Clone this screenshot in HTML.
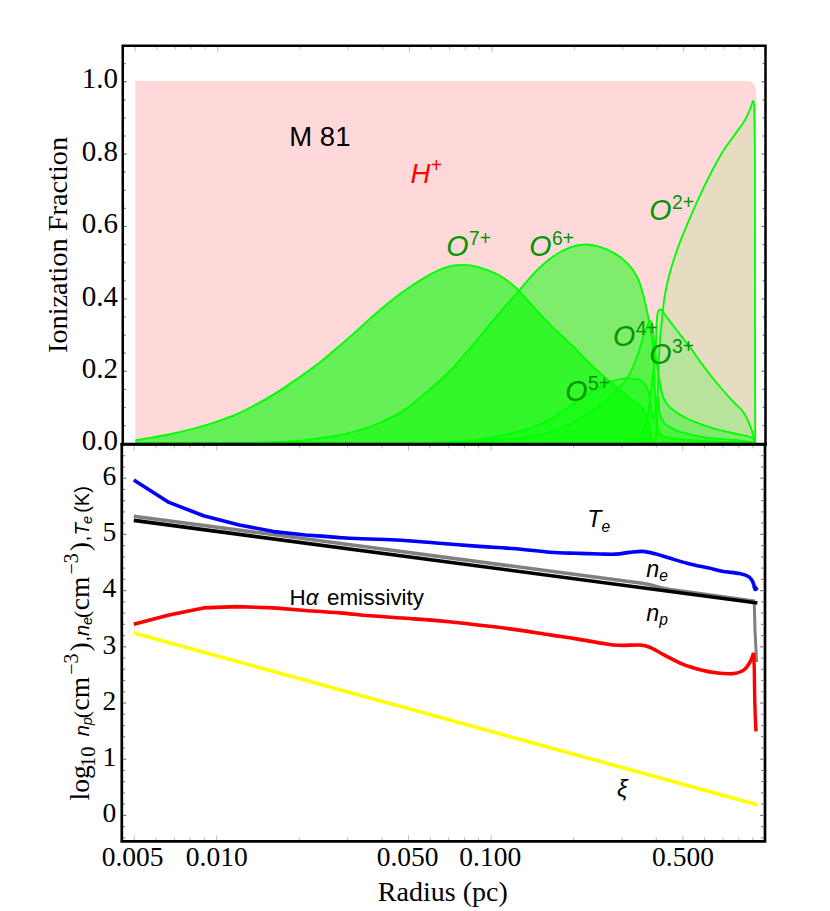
<!DOCTYPE html>
<html><head><meta charset="utf-8"><title>M 81 ionization</title>
<style>html,body{margin:0;padding:0;background:#fff}svg{display:block}.sf{font-family:"Liberation Serif",serif}.ss{font-family:"Liberation Sans",sans-serif}</style></head>
<body>
<svg width="830" height="911" viewBox="0 0 830 911">
<rect width="830" height="911" fill="#fff"/>
<path d="M135.3,443.7 L135.3,81 L747,81 C752.5,81.2 755.6,83.5 756.3,93 L756.6,443.7 Z" fill="rgb(255,0,0)" fill-opacity="0.15"/>
<path d="M135.30,443.60 C219.42,443.60 553.88,443.70 640.00,443.60 C726.12,443.50 649.42,443.60 652.00,443.00 C654.58,442.40 654.70,443.00 655.50,440.00 C656.30,437.00 656.47,431.67 656.80,425.00 C657.13,418.33 657.25,408.33 657.50,400.00 C657.75,391.67 658.10,381.52 658.30,375.00 C658.50,368.48 658.48,365.45 658.70,360.90 C658.92,356.35 659.30,352.10 659.60,347.70 C659.90,343.30 660.13,338.88 660.50,334.50 C660.87,330.12 661.37,325.78 661.80,321.40 C662.23,317.02 662.58,312.60 663.10,308.20 C663.62,303.80 663.95,300.25 664.90,295.00 C665.85,289.75 667.23,282.87 668.80,276.70 C670.37,270.53 672.22,264.33 674.30,258.00 C676.38,251.67 678.38,246.10 681.30,238.70 C684.22,231.30 688.32,221.62 691.80,213.60 C695.28,205.58 698.73,197.90 702.20,190.60 C705.67,183.30 709.12,176.40 712.60,169.80 C716.08,163.20 719.62,156.57 723.10,151.00 C726.58,145.43 730.03,141.27 733.50,136.40 C736.97,131.53 741.28,125.98 743.90,121.80 C746.52,117.62 747.85,114.35 749.20,111.30 C750.55,108.25 751.37,105.22 752.00,103.50 C752.63,101.78 752.67,100.92 753.00,101.00 C753.33,101.08 753.75,100.53 754.00,104.00 C754.25,107.47 754.35,111.88 754.50,121.80 C754.65,131.72 754.82,138.80 754.90,163.50 C754.98,188.20 754.97,230.58 755.00,270.00 C755.03,309.42 755.07,371.08 755.10,400.00 C755.13,428.92 755.18,436.25 755.20,443.50 L755.20,443.70 L135.30,443.70 Z" fill="rgb(0,255,0)" fill-opacity="0.10" stroke="none"/>
<path d="M135.30,443.60 C212.75,443.58 518.38,443.60 600.00,443.50 C681.62,443.40 619.33,443.32 625.00,443.00 C630.67,442.68 631.62,442.52 634.00,441.60 C636.38,440.68 637.62,439.52 639.30,437.50 C640.98,435.48 642.75,432.75 644.10,429.50 C645.45,426.25 646.52,422.08 647.40,418.00 C648.28,413.92 648.80,409.28 649.40,405.00 C650.00,400.72 650.52,396.45 651.00,392.30 C651.48,388.15 651.88,383.65 652.30,380.10 C652.72,376.55 653.08,374.18 653.50,371.00 C653.92,367.82 654.45,364.50 654.80,361.00 C655.15,357.50 655.38,353.68 655.60,350.00 C655.82,346.32 655.95,342.93 656.10,338.90 C656.25,334.87 656.28,329.90 656.50,325.80 C656.72,321.70 657.02,316.90 657.40,314.30 C657.78,311.70 658.30,310.98 658.80,310.20 C659.30,309.42 659.83,309.50 660.40,309.60 C660.97,309.70 661.50,310.02 662.20,310.80 C662.90,311.58 663.15,312.33 664.60,314.30 C666.05,316.27 668.12,318.95 670.90,322.60 C673.68,326.25 677.82,331.67 681.30,336.20 C684.78,340.73 688.32,345.10 691.80,349.80 C695.28,354.50 698.73,359.70 702.20,364.40 C705.67,369.10 709.12,373.65 712.60,378.00 C716.08,382.35 719.62,386.50 723.10,390.50 C726.58,394.50 730.37,398.70 733.50,402.00 C736.63,405.30 739.63,407.52 741.90,410.30 C744.17,413.08 745.53,415.57 747.10,418.70 C748.67,421.83 750.18,425.97 751.30,429.10 C752.42,432.23 753.18,435.27 753.80,437.50 C754.42,439.73 754.80,441.67 755.00,442.50 L755.00,443.70 L135.30,443.70 Z" fill="rgb(0,255,0)" fill-opacity="0.20" stroke="none"/>
<path d="M135.30,443.60 C186.08,443.55 382.55,443.65 440.00,443.30 C497.45,442.95 470.00,442.05 480.00,441.50 C490.00,440.95 492.67,440.67 500.00,440.00 C507.33,439.33 515.95,438.72 524.00,437.50 C532.05,436.28 540.23,435.12 548.30,432.70 C556.37,430.28 564.37,427.02 572.40,423.00 C580.43,418.98 589.27,413.82 596.50,408.60 C603.73,403.38 610.57,396.93 615.80,391.70 C621.03,386.47 624.28,383.23 627.90,377.20 C631.52,371.17 634.85,362.62 637.50,355.50 C640.15,348.38 642.17,339.45 643.80,334.50 C645.43,329.55 646.18,328.05 647.30,325.80 C648.42,323.55 649.62,320.97 650.50,321.00 C651.38,321.03 652.02,322.83 652.60,326.00 C653.18,329.17 653.52,335.17 654.00,340.00 C654.48,344.83 654.92,350.33 655.50,355.00 C656.08,359.67 656.85,363.83 657.50,368.00 C658.15,372.17 658.57,375.50 659.40,380.00 C660.23,384.50 661.40,391.25 662.50,395.00 C663.60,398.75 664.60,400.30 666.00,402.50 C667.40,404.70 668.35,406.03 670.90,408.20 C673.45,410.37 677.82,413.40 681.30,415.50 C684.78,417.60 686.58,418.70 691.80,420.80 C697.02,422.90 705.65,426.02 712.60,428.10 C719.55,430.18 727.58,431.92 733.50,433.30 C739.42,434.68 744.60,435.37 748.10,436.40 C751.60,437.43 753.43,438.98 754.50,439.50 L754.50,443.70 L135.30,443.70 Z" fill="rgb(0,255,0)" fill-opacity="0.30" stroke="none"/>
<path d="M135.30,443.60 C179.42,443.55 349.22,443.52 400.00,443.30 C450.78,443.08 427.57,442.78 440.00,442.30 C452.43,441.82 464.60,441.45 474.60,440.40 C484.60,439.35 491.75,437.73 500.00,436.00 C508.25,434.27 516.05,432.58 524.10,430.00 C532.15,427.42 540.25,424.75 548.30,420.50 C556.35,416.25 564.37,409.83 572.40,404.50 C580.43,399.17 590.07,392.33 596.50,388.50 C602.93,384.67 606.17,383.18 611.00,381.50 C615.83,379.82 621.33,378.77 625.50,378.40 C629.67,378.03 633.43,378.98 636.00,379.30 C638.57,379.62 639.42,379.48 640.90,380.30 C642.38,381.12 643.75,382.60 644.90,384.20 C646.05,385.80 647.02,387.60 647.80,389.90 C648.58,392.20 649.10,394.98 649.60,398.00 C650.10,401.02 650.40,405.17 650.80,408.00 C651.20,410.83 651.58,413.33 652.00,415.00 C652.42,416.67 652.83,418.17 653.30,418.00 C653.77,417.83 654.35,416.33 654.80,414.00 C655.25,411.67 655.58,406.83 656.00,404.00 C656.42,401.17 656.88,397.33 657.30,397.00 C657.72,396.67 658.12,399.40 658.50,402.00 C658.88,404.60 658.75,409.20 659.60,412.60 C660.45,416.00 661.53,419.78 663.60,422.40 C665.67,425.02 669.05,426.67 672.00,428.30 C674.95,429.93 676.27,430.75 681.30,432.20 C686.33,433.65 693.50,435.70 702.20,437.00 C710.90,438.30 724.78,439.12 733.50,440.00 C742.22,440.88 751.00,441.92 754.50,442.30 L754.50,443.70 L135.30,443.70 Z" fill="rgb(0,255,0)" fill-opacity="0.40" stroke="none"/>
<path d="M135.30,443.50 C154.42,443.42 222.55,443.45 250.00,443.00 C277.45,442.55 286.67,441.85 300.00,440.80 C313.33,439.75 320.98,438.18 330.00,436.70 C339.02,435.22 346.07,434.10 354.10,431.90 C362.13,429.70 370.17,426.92 378.20,423.50 C386.23,420.08 394.27,416.62 402.30,411.40 C410.33,406.18 418.37,399.02 426.40,392.20 C434.43,385.38 442.47,378.73 450.50,370.50 C458.53,362.27 466.57,352.23 474.60,342.80 C482.63,333.37 491.25,322.65 498.70,313.90 C506.15,305.15 513.05,297.45 519.30,290.30 C525.55,283.15 530.57,276.63 536.20,271.00 C541.83,265.37 547.47,260.43 553.10,256.50 C558.73,252.57 564.57,249.40 570.00,247.40 C575.43,245.40 580.47,244.50 585.70,244.50 C590.93,244.50 596.38,245.80 601.40,247.40 C606.42,249.00 611.38,251.37 615.80,254.10 C620.22,256.83 624.28,259.90 627.90,263.80 C631.52,267.70 634.93,272.30 637.50,277.50 C640.07,282.70 641.82,289.88 643.30,295.00 C644.78,300.12 645.43,303.80 646.40,308.20 C647.37,312.60 648.28,317.02 649.10,321.40 C649.92,325.78 650.65,330.12 651.30,334.50 C651.95,338.88 652.57,342.57 653.00,347.70 C653.43,352.83 653.63,359.08 653.90,365.30 C654.17,371.52 654.32,378.38 654.60,385.00 C654.88,391.62 655.20,398.72 655.60,405.00 C656.00,411.28 656.43,418.37 657.00,422.70 C657.57,427.03 658.27,428.95 659.00,431.00 C659.73,433.05 659.90,433.92 661.40,435.00 C662.90,436.08 665.82,436.87 668.00,437.50 C670.18,438.13 670.00,438.30 674.50,438.80 C679.00,439.30 686.58,439.97 695.00,440.50 C703.42,441.03 715.08,441.53 725.00,442.00 C734.92,442.47 749.58,443.08 754.50,443.30 L754.50,443.70 L135.30,443.70 Z" fill="rgb(0,255,0)" fill-opacity="0.50" stroke="none"/>
<path d="M135.30,440.40 C141.05,439.38 158.43,436.72 169.80,434.30 C181.17,431.88 192.07,429.38 203.50,425.90 C214.93,422.42 226.75,418.62 238.40,413.40 C250.05,408.18 263.35,400.55 273.40,394.60 C283.45,388.65 290.87,383.13 298.70,377.70 C306.53,372.27 315.18,365.97 320.40,362.00 C325.62,358.03 324.38,358.72 330.00,353.90 C335.62,349.08 346.07,340.18 354.10,333.10 C362.13,326.02 370.17,318.22 378.20,311.40 C386.23,304.58 394.27,298.02 402.30,292.20 C410.33,286.38 419.17,280.65 426.40,276.50 C433.63,272.35 439.68,269.23 445.70,267.30 C451.72,265.37 456.88,264.90 462.50,264.90 C468.12,264.90 473.37,265.62 479.40,267.30 C485.43,268.98 493.27,272.17 498.70,275.00 C504.13,277.83 507.77,280.73 512.00,284.30 C516.23,287.87 518.05,289.97 524.10,296.40 C530.15,302.83 540.25,314.67 548.30,322.90 C556.35,331.13 564.37,337.95 572.40,345.80 C580.43,353.65 588.45,362.55 596.50,370.00 C604.55,377.45 614.20,385.08 620.70,390.50 C627.20,395.92 632.12,399.83 635.50,402.50 C638.88,405.17 639.45,404.83 641.00,406.50 C642.55,408.17 643.72,410.33 644.80,412.50 C645.88,414.67 646.75,417.08 647.50,419.50 C648.25,421.92 648.80,424.42 649.30,427.00 C649.80,429.58 650.17,432.58 650.50,435.00 C650.83,437.42 650.97,440.10 651.30,441.50 C651.63,442.90 652.30,443.08 652.50,443.40 L652.50,443.70 L135.30,443.70 Z" fill="rgb(0,255,0)" fill-opacity="0.60" stroke="none"/>
<path d="M135.30,443.60 C219.42,443.60 553.88,443.70 640.00,443.60 C726.12,443.50 649.42,443.60 652.00,443.00 C654.58,442.40 654.70,443.00 655.50,440.00 C656.30,437.00 656.47,431.67 656.80,425.00 C657.13,418.33 657.25,408.33 657.50,400.00 C657.75,391.67 658.10,381.52 658.30,375.00 C658.50,368.48 658.48,365.45 658.70,360.90 C658.92,356.35 659.30,352.10 659.60,347.70 C659.90,343.30 660.13,338.88 660.50,334.50 C660.87,330.12 661.37,325.78 661.80,321.40 C662.23,317.02 662.58,312.60 663.10,308.20 C663.62,303.80 663.95,300.25 664.90,295.00 C665.85,289.75 667.23,282.87 668.80,276.70 C670.37,270.53 672.22,264.33 674.30,258.00 C676.38,251.67 678.38,246.10 681.30,238.70 C684.22,231.30 688.32,221.62 691.80,213.60 C695.28,205.58 698.73,197.90 702.20,190.60 C705.67,183.30 709.12,176.40 712.60,169.80 C716.08,163.20 719.62,156.57 723.10,151.00 C726.58,145.43 730.03,141.27 733.50,136.40 C736.97,131.53 741.28,125.98 743.90,121.80 C746.52,117.62 747.85,114.35 749.20,111.30 C750.55,108.25 751.37,105.22 752.00,103.50 C752.63,101.78 752.67,100.92 753.00,101.00 C753.33,101.08 753.75,100.53 754.00,104.00 C754.25,107.47 754.35,111.88 754.50,121.80 C754.65,131.72 754.82,138.80 754.90,163.50 C754.98,188.20 754.97,230.58 755.00,270.00 C755.03,309.42 755.07,371.08 755.10,400.00 C755.13,428.92 755.18,436.25 755.20,443.50" fill="none" stroke="rgb(0,255,0)" stroke-width="1.9" stroke-linejoin="round"/>
<path d="M135.30,443.60 C212.75,443.58 518.38,443.60 600.00,443.50 C681.62,443.40 619.33,443.32 625.00,443.00 C630.67,442.68 631.62,442.52 634.00,441.60 C636.38,440.68 637.62,439.52 639.30,437.50 C640.98,435.48 642.75,432.75 644.10,429.50 C645.45,426.25 646.52,422.08 647.40,418.00 C648.28,413.92 648.80,409.28 649.40,405.00 C650.00,400.72 650.52,396.45 651.00,392.30 C651.48,388.15 651.88,383.65 652.30,380.10 C652.72,376.55 653.08,374.18 653.50,371.00 C653.92,367.82 654.45,364.50 654.80,361.00 C655.15,357.50 655.38,353.68 655.60,350.00 C655.82,346.32 655.95,342.93 656.10,338.90 C656.25,334.87 656.28,329.90 656.50,325.80 C656.72,321.70 657.02,316.90 657.40,314.30 C657.78,311.70 658.30,310.98 658.80,310.20 C659.30,309.42 659.83,309.50 660.40,309.60 C660.97,309.70 661.50,310.02 662.20,310.80 C662.90,311.58 663.15,312.33 664.60,314.30 C666.05,316.27 668.12,318.95 670.90,322.60 C673.68,326.25 677.82,331.67 681.30,336.20 C684.78,340.73 688.32,345.10 691.80,349.80 C695.28,354.50 698.73,359.70 702.20,364.40 C705.67,369.10 709.12,373.65 712.60,378.00 C716.08,382.35 719.62,386.50 723.10,390.50 C726.58,394.50 730.37,398.70 733.50,402.00 C736.63,405.30 739.63,407.52 741.90,410.30 C744.17,413.08 745.53,415.57 747.10,418.70 C748.67,421.83 750.18,425.97 751.30,429.10 C752.42,432.23 753.18,435.27 753.80,437.50 C754.42,439.73 754.80,441.67 755.00,442.50" fill="none" stroke="rgb(0,255,0)" stroke-width="1.9" stroke-linejoin="round"/>
<path d="M135.30,443.60 C186.08,443.55 382.55,443.65 440.00,443.30 C497.45,442.95 470.00,442.05 480.00,441.50 C490.00,440.95 492.67,440.67 500.00,440.00 C507.33,439.33 515.95,438.72 524.00,437.50 C532.05,436.28 540.23,435.12 548.30,432.70 C556.37,430.28 564.37,427.02 572.40,423.00 C580.43,418.98 589.27,413.82 596.50,408.60 C603.73,403.38 610.57,396.93 615.80,391.70 C621.03,386.47 624.28,383.23 627.90,377.20 C631.52,371.17 634.85,362.62 637.50,355.50 C640.15,348.38 642.17,339.45 643.80,334.50 C645.43,329.55 646.18,328.05 647.30,325.80 C648.42,323.55 649.62,320.97 650.50,321.00 C651.38,321.03 652.02,322.83 652.60,326.00 C653.18,329.17 653.52,335.17 654.00,340.00 C654.48,344.83 654.92,350.33 655.50,355.00 C656.08,359.67 656.85,363.83 657.50,368.00 C658.15,372.17 658.57,375.50 659.40,380.00 C660.23,384.50 661.40,391.25 662.50,395.00 C663.60,398.75 664.60,400.30 666.00,402.50 C667.40,404.70 668.35,406.03 670.90,408.20 C673.45,410.37 677.82,413.40 681.30,415.50 C684.78,417.60 686.58,418.70 691.80,420.80 C697.02,422.90 705.65,426.02 712.60,428.10 C719.55,430.18 727.58,431.92 733.50,433.30 C739.42,434.68 744.60,435.37 748.10,436.40 C751.60,437.43 753.43,438.98 754.50,439.50" fill="none" stroke="rgb(0,255,0)" stroke-width="1.9" stroke-linejoin="round"/>
<path d="M135.30,443.60 C179.42,443.55 349.22,443.52 400.00,443.30 C450.78,443.08 427.57,442.78 440.00,442.30 C452.43,441.82 464.60,441.45 474.60,440.40 C484.60,439.35 491.75,437.73 500.00,436.00 C508.25,434.27 516.05,432.58 524.10,430.00 C532.15,427.42 540.25,424.75 548.30,420.50 C556.35,416.25 564.37,409.83 572.40,404.50 C580.43,399.17 590.07,392.33 596.50,388.50 C602.93,384.67 606.17,383.18 611.00,381.50 C615.83,379.82 621.33,378.77 625.50,378.40 C629.67,378.03 633.43,378.98 636.00,379.30 C638.57,379.62 639.42,379.48 640.90,380.30 C642.38,381.12 643.75,382.60 644.90,384.20 C646.05,385.80 647.02,387.60 647.80,389.90 C648.58,392.20 649.10,394.98 649.60,398.00 C650.10,401.02 650.40,405.17 650.80,408.00 C651.20,410.83 651.58,413.33 652.00,415.00 C652.42,416.67 652.83,418.17 653.30,418.00 C653.77,417.83 654.35,416.33 654.80,414.00 C655.25,411.67 655.58,406.83 656.00,404.00 C656.42,401.17 656.88,397.33 657.30,397.00 C657.72,396.67 658.12,399.40 658.50,402.00 C658.88,404.60 658.75,409.20 659.60,412.60 C660.45,416.00 661.53,419.78 663.60,422.40 C665.67,425.02 669.05,426.67 672.00,428.30 C674.95,429.93 676.27,430.75 681.30,432.20 C686.33,433.65 693.50,435.70 702.20,437.00 C710.90,438.30 724.78,439.12 733.50,440.00 C742.22,440.88 751.00,441.92 754.50,442.30" fill="none" stroke="rgb(0,255,0)" stroke-width="1.9" stroke-linejoin="round"/>
<path d="M135.30,443.50 C154.42,443.42 222.55,443.45 250.00,443.00 C277.45,442.55 286.67,441.85 300.00,440.80 C313.33,439.75 320.98,438.18 330.00,436.70 C339.02,435.22 346.07,434.10 354.10,431.90 C362.13,429.70 370.17,426.92 378.20,423.50 C386.23,420.08 394.27,416.62 402.30,411.40 C410.33,406.18 418.37,399.02 426.40,392.20 C434.43,385.38 442.47,378.73 450.50,370.50 C458.53,362.27 466.57,352.23 474.60,342.80 C482.63,333.37 491.25,322.65 498.70,313.90 C506.15,305.15 513.05,297.45 519.30,290.30 C525.55,283.15 530.57,276.63 536.20,271.00 C541.83,265.37 547.47,260.43 553.10,256.50 C558.73,252.57 564.57,249.40 570.00,247.40 C575.43,245.40 580.47,244.50 585.70,244.50 C590.93,244.50 596.38,245.80 601.40,247.40 C606.42,249.00 611.38,251.37 615.80,254.10 C620.22,256.83 624.28,259.90 627.90,263.80 C631.52,267.70 634.93,272.30 637.50,277.50 C640.07,282.70 641.82,289.88 643.30,295.00 C644.78,300.12 645.43,303.80 646.40,308.20 C647.37,312.60 648.28,317.02 649.10,321.40 C649.92,325.78 650.65,330.12 651.30,334.50 C651.95,338.88 652.57,342.57 653.00,347.70 C653.43,352.83 653.63,359.08 653.90,365.30 C654.17,371.52 654.32,378.38 654.60,385.00 C654.88,391.62 655.20,398.72 655.60,405.00 C656.00,411.28 656.43,418.37 657.00,422.70 C657.57,427.03 658.27,428.95 659.00,431.00 C659.73,433.05 659.90,433.92 661.40,435.00 C662.90,436.08 665.82,436.87 668.00,437.50 C670.18,438.13 670.00,438.30 674.50,438.80 C679.00,439.30 686.58,439.97 695.00,440.50 C703.42,441.03 715.08,441.53 725.00,442.00 C734.92,442.47 749.58,443.08 754.50,443.30" fill="none" stroke="rgb(0,255,0)" stroke-width="1.9" stroke-linejoin="round"/>
<path d="M135.30,440.40 C141.05,439.38 158.43,436.72 169.80,434.30 C181.17,431.88 192.07,429.38 203.50,425.90 C214.93,422.42 226.75,418.62 238.40,413.40 C250.05,408.18 263.35,400.55 273.40,394.60 C283.45,388.65 290.87,383.13 298.70,377.70 C306.53,372.27 315.18,365.97 320.40,362.00 C325.62,358.03 324.38,358.72 330.00,353.90 C335.62,349.08 346.07,340.18 354.10,333.10 C362.13,326.02 370.17,318.22 378.20,311.40 C386.23,304.58 394.27,298.02 402.30,292.20 C410.33,286.38 419.17,280.65 426.40,276.50 C433.63,272.35 439.68,269.23 445.70,267.30 C451.72,265.37 456.88,264.90 462.50,264.90 C468.12,264.90 473.37,265.62 479.40,267.30 C485.43,268.98 493.27,272.17 498.70,275.00 C504.13,277.83 507.77,280.73 512.00,284.30 C516.23,287.87 518.05,289.97 524.10,296.40 C530.15,302.83 540.25,314.67 548.30,322.90 C556.35,331.13 564.37,337.95 572.40,345.80 C580.43,353.65 588.45,362.55 596.50,370.00 C604.55,377.45 614.20,385.08 620.70,390.50 C627.20,395.92 632.12,399.83 635.50,402.50 C638.88,405.17 639.45,404.83 641.00,406.50 C642.55,408.17 643.72,410.33 644.80,412.50 C645.88,414.67 646.75,417.08 647.50,419.50 C648.25,421.92 648.80,424.42 649.30,427.00 C649.80,429.58 650.17,432.58 650.50,435.00 C650.83,437.42 650.97,440.10 651.30,441.50 C651.63,442.90 652.30,443.08 652.50,443.40" fill="none" stroke="rgb(0,255,0)" stroke-width="1.9" stroke-linejoin="round"/>
<path d="M133.80,516.20 L642.00,583.22 L650.00,584.78 L660.00,587.40 L672.00,589.89 L755.00,601.28" fill="none" stroke="rgb(128,128,128)" stroke-width="3.6"/>
<path d="M754.2,601 L755.0,630 L756.6,662" fill="none" stroke="rgb(128,128,128)" stroke-width="3.0"/>
<path d="M133.8,520.4 L757.4,603.0" fill="none" stroke="#000" stroke-width="3.6"/>
<path d="M133.80,479.90 L169.00,502.40 L203.50,515.70 L239.30,524.90 L273.70,531.60 L305.50,535.00 L321.40,536.10 L340.00,537.60 C342.75,537.75 347.12,538.10 356.50,538.50 C365.88,538.90 383.05,539.25 396.30,540.00 C409.55,540.75 422.75,541.98 436.00,543.00 C449.25,544.02 462.55,545.13 475.80,546.10 C489.05,547.07 503.13,547.78 515.50,548.80 C527.87,549.82 539.83,551.45 550.00,552.20 C560.17,552.95 568.17,553.00 576.50,553.30 C584.83,553.60 593.37,553.87 600.00,554.00 C606.63,554.13 611.38,554.37 616.30,554.10 C621.22,553.83 625.08,552.85 629.50,552.40 C633.92,551.95 638.38,551.12 642.80,551.40 C647.22,551.68 651.58,552.98 656.00,554.10 C660.42,555.22 664.00,556.55 669.30,558.10 C674.60,559.65 681.18,561.73 687.80,563.40 C694.42,565.07 703.30,566.80 709.00,568.10 C714.70,569.40 716.90,570.28 722.00,571.20 C727.10,572.12 735.20,572.72 739.60,573.60 C744.00,574.48 746.28,575.28 748.40,576.50 C750.52,577.72 751.32,579.22 752.30,580.90 C753.28,582.58 753.75,584.95 754.30,586.60 C754.85,588.25 755.38,590.10 755.60,590.80" fill="none" stroke="rgb(0,0,255)" stroke-width="3.6" stroke-linejoin="round"/>
<path d="M753.8,586 L757.2,590.2" stroke="rgb(0,0,255)" stroke-width="4" fill="none"/>
<path d="M133.8,633.1 L758,804.9" fill="none" stroke="rgb(255,255,0)" stroke-width="3.6"/>
<path d="M133.80,624.30 L169.00,615.00 L203.50,607.90 L236.60,606.60 L273.70,607.90 L305.50,610.50 C311.25,610.90 329.28,612.02 340.00,612.90 C350.72,613.78 358.22,614.87 369.80,615.80 C381.38,616.73 396.25,617.52 409.50,618.50 C422.75,619.48 436.05,620.42 449.30,621.70 C462.55,622.98 477.97,624.88 489.00,626.20 C500.03,627.52 505.33,628.15 515.50,629.60 C525.67,631.05 539.83,633.35 550.00,634.90 C560.17,636.45 567.67,637.48 576.50,638.90 C585.33,640.32 595.93,642.33 603.00,643.40 C610.07,644.47 612.72,645.03 618.90,645.30 C625.08,645.57 634.80,644.62 640.10,645.00 C645.40,645.38 646.72,645.97 650.70,647.60 C654.68,649.23 658.70,652.05 664.00,654.80 C669.30,657.55 676.32,661.58 682.50,664.10 C688.68,666.62 695.25,668.42 701.10,669.90 C706.95,671.38 712.28,672.38 717.60,673.00 C722.92,673.62 728.60,674.12 733.00,673.60 C737.40,673.08 741.08,671.98 744.00,669.90 C746.92,667.82 748.90,663.95 750.50,661.10 C752.10,658.25 753.08,654.18 753.60,652.80" fill="none" stroke="rgb(255,0,0)" stroke-width="3.6" stroke-linejoin="round"/>
<path d="M753.60,652.80 C753.72,655.67 754.13,663.48 754.30,670.00 C754.47,676.52 754.45,684.40 754.60,691.90 C754.75,699.40 754.97,708.42 755.20,715.00 C755.43,721.58 755.87,728.67 756.00,731.40" fill="none" stroke="rgb(255,0,0)" stroke-width="3.4" stroke-linejoin="miter"/>
<path d="M135.13,47.00 L135.13,51.60" stroke="#8c8c8c" stroke-width="0.6"/>
<path d="M134.23,445.80 L134.23,450.40" stroke="#8c8c8c" stroke-width="0.6"/>
<path d="M134.23,840.00 L134.23,835.40" stroke="#8c8c8c" stroke-width="0.6"/>
<path d="M217.70,47.00 L217.70,51.60" stroke="#8c8c8c" stroke-width="0.6"/>
<path d="M216.80,445.80 L216.80,450.40" stroke="#8c8c8c" stroke-width="0.6"/>
<path d="M216.80,840.00 L216.80,835.40" stroke="#8c8c8c" stroke-width="0.6"/>
<path d="M409.43,47.00 L409.43,51.60" stroke="#8c8c8c" stroke-width="0.6"/>
<path d="M408.53,445.80 L408.53,450.40" stroke="#8c8c8c" stroke-width="0.6"/>
<path d="M408.53,840.00 L408.53,835.40" stroke="#8c8c8c" stroke-width="0.6"/>
<path d="M492.00,47.00 L492.00,51.60" stroke="#8c8c8c" stroke-width="0.6"/>
<path d="M491.10,445.80 L491.10,450.40" stroke="#8c8c8c" stroke-width="0.6"/>
<path d="M491.10,840.00 L491.10,835.40" stroke="#8c8c8c" stroke-width="0.6"/>
<path d="M683.73,47.00 L683.73,51.60" stroke="#8c8c8c" stroke-width="0.6"/>
<path d="M682.83,445.80 L682.83,450.40" stroke="#8c8c8c" stroke-width="0.6"/>
<path d="M682.83,840.00 L682.83,835.40" stroke="#8c8c8c" stroke-width="0.6"/>
<path d="M156.85,47.00 L156.85,49.60" stroke="#8c8c8c" stroke-width="0.6"/>
<path d="M155.95,445.80 L155.95,448.40" stroke="#8c8c8c" stroke-width="0.6"/>
<path d="M155.95,840.00 L155.95,837.40" stroke="#8c8c8c" stroke-width="0.6"/>
<path d="M175.21,47.00 L175.21,49.60" stroke="#8c8c8c" stroke-width="0.6"/>
<path d="M174.31,445.80 L174.31,448.40" stroke="#8c8c8c" stroke-width="0.6"/>
<path d="M174.31,840.00 L174.31,837.40" stroke="#8c8c8c" stroke-width="0.6"/>
<path d="M191.12,47.00 L191.12,49.60" stroke="#8c8c8c" stroke-width="0.6"/>
<path d="M190.22,445.80 L190.22,448.40" stroke="#8c8c8c" stroke-width="0.6"/>
<path d="M190.22,840.00 L190.22,837.40" stroke="#8c8c8c" stroke-width="0.6"/>
<path d="M205.15,47.00 L205.15,49.60" stroke="#8c8c8c" stroke-width="0.6"/>
<path d="M204.25,445.80 L204.25,448.40" stroke="#8c8c8c" stroke-width="0.6"/>
<path d="M204.25,840.00 L204.25,837.40" stroke="#8c8c8c" stroke-width="0.6"/>
<path d="M300.27,47.00 L300.27,49.60" stroke="#8c8c8c" stroke-width="0.6"/>
<path d="M299.37,445.80 L299.37,448.40" stroke="#8c8c8c" stroke-width="0.6"/>
<path d="M299.37,840.00 L299.37,837.40" stroke="#8c8c8c" stroke-width="0.6"/>
<path d="M348.57,47.00 L348.57,49.60" stroke="#8c8c8c" stroke-width="0.6"/>
<path d="M347.67,445.80 L347.67,448.40" stroke="#8c8c8c" stroke-width="0.6"/>
<path d="M347.67,840.00 L347.67,837.40" stroke="#8c8c8c" stroke-width="0.6"/>
<path d="M382.85,47.00 L382.85,49.60" stroke="#8c8c8c" stroke-width="0.6"/>
<path d="M381.95,445.80 L381.95,448.40" stroke="#8c8c8c" stroke-width="0.6"/>
<path d="M381.95,840.00 L381.95,837.40" stroke="#8c8c8c" stroke-width="0.6"/>
<path d="M431.15,47.00 L431.15,49.60" stroke="#8c8c8c" stroke-width="0.6"/>
<path d="M430.25,445.80 L430.25,448.40" stroke="#8c8c8c" stroke-width="0.6"/>
<path d="M430.25,840.00 L430.25,837.40" stroke="#8c8c8c" stroke-width="0.6"/>
<path d="M449.51,47.00 L449.51,49.60" stroke="#8c8c8c" stroke-width="0.6"/>
<path d="M448.61,445.80 L448.61,448.40" stroke="#8c8c8c" stroke-width="0.6"/>
<path d="M448.61,840.00 L448.61,837.40" stroke="#8c8c8c" stroke-width="0.6"/>
<path d="M465.42,47.00 L465.42,49.60" stroke="#8c8c8c" stroke-width="0.6"/>
<path d="M464.52,445.80 L464.52,448.40" stroke="#8c8c8c" stroke-width="0.6"/>
<path d="M464.52,840.00 L464.52,837.40" stroke="#8c8c8c" stroke-width="0.6"/>
<path d="M479.45,47.00 L479.45,49.60" stroke="#8c8c8c" stroke-width="0.6"/>
<path d="M478.55,445.80 L478.55,448.40" stroke="#8c8c8c" stroke-width="0.6"/>
<path d="M478.55,840.00 L478.55,837.40" stroke="#8c8c8c" stroke-width="0.6"/>
<path d="M574.57,47.00 L574.57,49.60" stroke="#8c8c8c" stroke-width="0.6"/>
<path d="M573.67,445.80 L573.67,448.40" stroke="#8c8c8c" stroke-width="0.6"/>
<path d="M573.67,840.00 L573.67,837.40" stroke="#8c8c8c" stroke-width="0.6"/>
<path d="M622.87,47.00 L622.87,49.60" stroke="#8c8c8c" stroke-width="0.6"/>
<path d="M621.97,445.80 L621.97,448.40" stroke="#8c8c8c" stroke-width="0.6"/>
<path d="M621.97,840.00 L621.97,837.40" stroke="#8c8c8c" stroke-width="0.6"/>
<path d="M657.15,47.00 L657.15,49.60" stroke="#8c8c8c" stroke-width="0.6"/>
<path d="M656.25,445.80 L656.25,448.40" stroke="#8c8c8c" stroke-width="0.6"/>
<path d="M656.25,840.00 L656.25,837.40" stroke="#8c8c8c" stroke-width="0.6"/>
<path d="M705.45,47.00 L705.45,49.60" stroke="#8c8c8c" stroke-width="0.6"/>
<path d="M704.55,445.80 L704.55,448.40" stroke="#8c8c8c" stroke-width="0.6"/>
<path d="M704.55,840.00 L704.55,837.40" stroke="#8c8c8c" stroke-width="0.6"/>
<path d="M723.81,47.00 L723.81,49.60" stroke="#8c8c8c" stroke-width="0.6"/>
<path d="M722.91,445.80 L722.91,448.40" stroke="#8c8c8c" stroke-width="0.6"/>
<path d="M722.91,840.00 L722.91,837.40" stroke="#8c8c8c" stroke-width="0.6"/>
<path d="M739.72,47.00 L739.72,49.60" stroke="#8c8c8c" stroke-width="0.6"/>
<path d="M738.82,445.80 L738.82,448.40" stroke="#8c8c8c" stroke-width="0.6"/>
<path d="M738.82,840.00 L738.82,837.40" stroke="#8c8c8c" stroke-width="0.6"/>
<path d="M753.75,47.00 L753.75,49.60" stroke="#8c8c8c" stroke-width="0.6"/>
<path d="M752.85,445.80 L752.85,448.40" stroke="#8c8c8c" stroke-width="0.6"/>
<path d="M752.85,840.00 L752.85,837.40" stroke="#8c8c8c" stroke-width="0.6"/>
<path d="M124.00,443.70 L126.70,443.70" stroke="#707070" stroke-width="1.2"/>
<path d="M764.30,443.70 L761.60,443.70" stroke="#707070" stroke-width="1.2"/>
<path d="M124.00,425.60 L125.70,425.60" stroke="#707070" stroke-width="1.2"/>
<path d="M764.30,425.60 L762.60,425.60" stroke="#707070" stroke-width="1.2"/>
<path d="M124.00,407.50 L125.70,407.50" stroke="#707070" stroke-width="1.2"/>
<path d="M764.30,407.50 L762.60,407.50" stroke="#707070" stroke-width="1.2"/>
<path d="M124.00,389.40 L125.70,389.40" stroke="#707070" stroke-width="1.2"/>
<path d="M764.30,389.40 L762.60,389.40" stroke="#707070" stroke-width="1.2"/>
<path d="M124.00,371.30 L126.70,371.30" stroke="#707070" stroke-width="1.2"/>
<path d="M764.30,371.30 L761.60,371.30" stroke="#707070" stroke-width="1.2"/>
<path d="M124.00,353.20 L125.70,353.20" stroke="#707070" stroke-width="1.2"/>
<path d="M764.30,353.20 L762.60,353.20" stroke="#707070" stroke-width="1.2"/>
<path d="M124.00,335.10 L125.70,335.10" stroke="#707070" stroke-width="1.2"/>
<path d="M764.30,335.10 L762.60,335.10" stroke="#707070" stroke-width="1.2"/>
<path d="M124.00,317.00 L125.70,317.00" stroke="#707070" stroke-width="1.2"/>
<path d="M764.30,317.00 L762.60,317.00" stroke="#707070" stroke-width="1.2"/>
<path d="M124.00,298.90 L126.70,298.90" stroke="#707070" stroke-width="1.2"/>
<path d="M764.30,298.90 L761.60,298.90" stroke="#707070" stroke-width="1.2"/>
<path d="M124.00,280.80 L125.70,280.80" stroke="#707070" stroke-width="1.2"/>
<path d="M764.30,280.80 L762.60,280.80" stroke="#707070" stroke-width="1.2"/>
<path d="M124.00,262.70 L125.70,262.70" stroke="#707070" stroke-width="1.2"/>
<path d="M764.30,262.70 L762.60,262.70" stroke="#707070" stroke-width="1.2"/>
<path d="M124.00,244.60 L125.70,244.60" stroke="#707070" stroke-width="1.2"/>
<path d="M764.30,244.60 L762.60,244.60" stroke="#707070" stroke-width="1.2"/>
<path d="M124.00,226.50 L126.70,226.50" stroke="#707070" stroke-width="1.2"/>
<path d="M764.30,226.50 L761.60,226.50" stroke="#707070" stroke-width="1.2"/>
<path d="M124.00,208.40 L125.70,208.40" stroke="#707070" stroke-width="1.2"/>
<path d="M764.30,208.40 L762.60,208.40" stroke="#707070" stroke-width="1.2"/>
<path d="M124.00,190.30 L125.70,190.30" stroke="#707070" stroke-width="1.2"/>
<path d="M764.30,190.30 L762.60,190.30" stroke="#707070" stroke-width="1.2"/>
<path d="M124.00,172.20 L125.70,172.20" stroke="#707070" stroke-width="1.2"/>
<path d="M764.30,172.20 L762.60,172.20" stroke="#707070" stroke-width="1.2"/>
<path d="M124.00,154.10 L126.70,154.10" stroke="#707070" stroke-width="1.2"/>
<path d="M764.30,154.10 L761.60,154.10" stroke="#707070" stroke-width="1.2"/>
<path d="M124.00,136.00 L125.70,136.00" stroke="#707070" stroke-width="1.2"/>
<path d="M764.30,136.00 L762.60,136.00" stroke="#707070" stroke-width="1.2"/>
<path d="M124.00,117.90 L125.70,117.90" stroke="#707070" stroke-width="1.2"/>
<path d="M764.30,117.90 L762.60,117.90" stroke="#707070" stroke-width="1.2"/>
<path d="M124.00,99.80 L125.70,99.80" stroke="#707070" stroke-width="1.2"/>
<path d="M764.30,99.80 L762.60,99.80" stroke="#707070" stroke-width="1.2"/>
<path d="M124.00,81.70 L126.70,81.70" stroke="#707070" stroke-width="1.2"/>
<path d="M764.30,81.70 L761.60,81.70" stroke="#707070" stroke-width="1.2"/>
<path d="M124.00,63.60 L125.70,63.60" stroke="#707070" stroke-width="1.2"/>
<path d="M764.30,63.60 L762.60,63.60" stroke="#707070" stroke-width="1.2"/>
<path d="M123.40,837.88 L125.10,837.88" stroke="#707070" stroke-width="1.2"/>
<path d="M763.00,837.88 L761.30,837.88" stroke="#707070" stroke-width="1.2"/>
<path d="M123.40,826.64 L125.10,826.64" stroke="#707070" stroke-width="1.2"/>
<path d="M763.00,826.64 L761.30,826.64" stroke="#707070" stroke-width="1.2"/>
<path d="M123.40,815.40 L126.10,815.40" stroke="#707070" stroke-width="1.2"/>
<path d="M763.00,815.40 L760.30,815.40" stroke="#707070" stroke-width="1.2"/>
<path d="M123.40,804.16 L125.10,804.16" stroke="#707070" stroke-width="1.2"/>
<path d="M763.00,804.16 L761.30,804.16" stroke="#707070" stroke-width="1.2"/>
<path d="M123.40,792.92 L125.10,792.92" stroke="#707070" stroke-width="1.2"/>
<path d="M763.00,792.92 L761.30,792.92" stroke="#707070" stroke-width="1.2"/>
<path d="M123.40,781.68 L125.10,781.68" stroke="#707070" stroke-width="1.2"/>
<path d="M763.00,781.68 L761.30,781.68" stroke="#707070" stroke-width="1.2"/>
<path d="M123.40,770.44 L125.10,770.44" stroke="#707070" stroke-width="1.2"/>
<path d="M763.00,770.44 L761.30,770.44" stroke="#707070" stroke-width="1.2"/>
<path d="M123.40,759.20 L126.10,759.20" stroke="#707070" stroke-width="1.2"/>
<path d="M763.00,759.20 L760.30,759.20" stroke="#707070" stroke-width="1.2"/>
<path d="M123.40,747.96 L125.10,747.96" stroke="#707070" stroke-width="1.2"/>
<path d="M763.00,747.96 L761.30,747.96" stroke="#707070" stroke-width="1.2"/>
<path d="M123.40,736.72 L125.10,736.72" stroke="#707070" stroke-width="1.2"/>
<path d="M763.00,736.72 L761.30,736.72" stroke="#707070" stroke-width="1.2"/>
<path d="M123.40,725.48 L125.10,725.48" stroke="#707070" stroke-width="1.2"/>
<path d="M763.00,725.48 L761.30,725.48" stroke="#707070" stroke-width="1.2"/>
<path d="M123.40,714.24 L125.10,714.24" stroke="#707070" stroke-width="1.2"/>
<path d="M763.00,714.24 L761.30,714.24" stroke="#707070" stroke-width="1.2"/>
<path d="M123.40,703.00 L126.10,703.00" stroke="#707070" stroke-width="1.2"/>
<path d="M763.00,703.00 L760.30,703.00" stroke="#707070" stroke-width="1.2"/>
<path d="M123.40,691.76 L125.10,691.76" stroke="#707070" stroke-width="1.2"/>
<path d="M763.00,691.76 L761.30,691.76" stroke="#707070" stroke-width="1.2"/>
<path d="M123.40,680.52 L125.10,680.52" stroke="#707070" stroke-width="1.2"/>
<path d="M763.00,680.52 L761.30,680.52" stroke="#707070" stroke-width="1.2"/>
<path d="M123.40,669.28 L125.10,669.28" stroke="#707070" stroke-width="1.2"/>
<path d="M763.00,669.28 L761.30,669.28" stroke="#707070" stroke-width="1.2"/>
<path d="M123.40,658.04 L125.10,658.04" stroke="#707070" stroke-width="1.2"/>
<path d="M763.00,658.04 L761.30,658.04" stroke="#707070" stroke-width="1.2"/>
<path d="M123.40,646.80 L126.10,646.80" stroke="#707070" stroke-width="1.2"/>
<path d="M763.00,646.80 L760.30,646.80" stroke="#707070" stroke-width="1.2"/>
<path d="M123.40,635.56 L125.10,635.56" stroke="#707070" stroke-width="1.2"/>
<path d="M763.00,635.56 L761.30,635.56" stroke="#707070" stroke-width="1.2"/>
<path d="M123.40,624.32 L125.10,624.32" stroke="#707070" stroke-width="1.2"/>
<path d="M763.00,624.32 L761.30,624.32" stroke="#707070" stroke-width="1.2"/>
<path d="M123.40,613.08 L125.10,613.08" stroke="#707070" stroke-width="1.2"/>
<path d="M763.00,613.08 L761.30,613.08" stroke="#707070" stroke-width="1.2"/>
<path d="M123.40,601.84 L125.10,601.84" stroke="#707070" stroke-width="1.2"/>
<path d="M763.00,601.84 L761.30,601.84" stroke="#707070" stroke-width="1.2"/>
<path d="M123.40,590.60 L126.10,590.60" stroke="#707070" stroke-width="1.2"/>
<path d="M763.00,590.60 L760.30,590.60" stroke="#707070" stroke-width="1.2"/>
<path d="M123.40,579.36 L125.10,579.36" stroke="#707070" stroke-width="1.2"/>
<path d="M763.00,579.36 L761.30,579.36" stroke="#707070" stroke-width="1.2"/>
<path d="M123.40,568.12 L125.10,568.12" stroke="#707070" stroke-width="1.2"/>
<path d="M763.00,568.12 L761.30,568.12" stroke="#707070" stroke-width="1.2"/>
<path d="M123.40,556.88 L125.10,556.88" stroke="#707070" stroke-width="1.2"/>
<path d="M763.00,556.88 L761.30,556.88" stroke="#707070" stroke-width="1.2"/>
<path d="M123.40,545.64 L125.10,545.64" stroke="#707070" stroke-width="1.2"/>
<path d="M763.00,545.64 L761.30,545.64" stroke="#707070" stroke-width="1.2"/>
<path d="M123.40,534.40 L126.10,534.40" stroke="#707070" stroke-width="1.2"/>
<path d="M763.00,534.40 L760.30,534.40" stroke="#707070" stroke-width="1.2"/>
<path d="M123.40,523.16 L125.10,523.16" stroke="#707070" stroke-width="1.2"/>
<path d="M763.00,523.16 L761.30,523.16" stroke="#707070" stroke-width="1.2"/>
<path d="M123.40,511.92 L125.10,511.92" stroke="#707070" stroke-width="1.2"/>
<path d="M763.00,511.92 L761.30,511.92" stroke="#707070" stroke-width="1.2"/>
<path d="M123.40,500.68 L125.10,500.68" stroke="#707070" stroke-width="1.2"/>
<path d="M763.00,500.68 L761.30,500.68" stroke="#707070" stroke-width="1.2"/>
<path d="M123.40,489.44 L125.10,489.44" stroke="#707070" stroke-width="1.2"/>
<path d="M763.00,489.44 L761.30,489.44" stroke="#707070" stroke-width="1.2"/>
<path d="M123.40,478.20 L126.10,478.20" stroke="#707070" stroke-width="1.2"/>
<path d="M763.00,478.20 L760.30,478.20" stroke="#707070" stroke-width="1.2"/>
<path d="M123.40,466.96 L125.10,466.96" stroke="#707070" stroke-width="1.2"/>
<path d="M763.00,466.96 L761.30,466.96" stroke="#707070" stroke-width="1.2"/>
<path d="M123.40,455.72 L125.10,455.72" stroke="#707070" stroke-width="1.2"/>
<path d="M763.00,455.72 L761.30,455.72" stroke="#707070" stroke-width="1.2"/>
<rect x="122.75" y="45.75" width="642.75" height="398.5" fill="none" stroke="#000" stroke-width="2.5"/>
<path d="M121.8,443 L121.8,841.35 L765.0,841.35 L765.0,443" fill="none" stroke="#000" stroke-width="2.7"/>
<path d="M120.5,444.2 L766.7,444.2" fill="none" stroke="#000" stroke-width="3.0"/>
<text x="117.9" y="450.4" class="sf" font-size="29" text-anchor="end">0.0</text>
<text x="117.9" y="378.0" class="sf" font-size="29" text-anchor="end">0.2</text>
<text x="117.9" y="305.6" class="sf" font-size="29" text-anchor="end">0.4</text>
<text x="117.9" y="233.2" class="sf" font-size="29" text-anchor="end">0.6</text>
<text x="117.9" y="160.8" class="sf" font-size="29" text-anchor="end">0.8</text>
<text x="117.9" y="88.4" class="sf" font-size="29" text-anchor="end">1.0</text>
<text x="116.2" y="822.2" class="sf" font-size="27.5" text-anchor="end">0</text>
<text x="116.2" y="766.0" class="sf" font-size="27.5" text-anchor="end">1</text>
<text x="116.2" y="709.8" class="sf" font-size="27.5" text-anchor="end">2</text>
<text x="116.2" y="653.6" class="sf" font-size="27.5" text-anchor="end">3</text>
<text x="116.2" y="597.4" class="sf" font-size="27.5" text-anchor="end">4</text>
<text x="116.2" y="541.2" class="sf" font-size="27.5" text-anchor="end">5</text>
<text x="116.2" y="485.0" class="sf" font-size="27.5" text-anchor="end">6</text>
<text x="132.6" y="866.3" class="sf" font-size="27.5" text-anchor="middle">0.005</text>
<text x="216.8" y="866.3" class="sf" font-size="27.5" text-anchor="middle">0.010</text>
<text x="407.6" y="866.3" class="sf" font-size="27.5" text-anchor="middle">0.050</text>
<text x="490.2" y="866.3" class="sf" font-size="27.5" text-anchor="middle">0.100</text>
<text x="683.0" y="866.3" class="sf" font-size="27.5" text-anchor="middle">0.500</text>
<text x="442.8" y="901" class="sf" font-size="28" text-anchor="middle">Radius (pc)</text>
<text transform="translate(66.8,245) rotate(-90)" class="sf" font-size="28.3" text-anchor="middle">Ionization Fraction</text>
<text transform="translate(88.9,800.5) rotate(-90)" class="sf" font-size="27.5">log</text>
<text transform="translate(94.7,767.0) rotate(-90)" class="sf" font-size="20.5">10</text>
<text transform="translate(88.9,736.2) rotate(-90)" class="ss" font-size="20.0" font-style="italic">n</text>
<text transform="translate(92.0,725.3) rotate(-90)" class="ss" font-size="14.5" font-style="italic">p</text>
<text transform="translate(88.9,718.2) rotate(-90)" class="sf" font-size="22.0">(</text>
<text transform="translate(88.9,710.5) rotate(-90)" class="sf" font-size="27.5">cm</text>
<text transform="translate(78.0,674.8) rotate(-90)" class="sf" font-size="20.0">−3</text>
<text transform="translate(88.9,651.5) rotate(-90)" class="sf" font-size="27.5">)</text>
<text transform="translate(88.9,641.5) rotate(-90)" class="ss" font-size="20.0">,</text>
<text transform="translate(88.9,635.9) rotate(-90)" class="ss" font-size="20.0" font-style="italic">n</text>
<text transform="translate(92.0,625.0) rotate(-90)" class="ss" font-size="14.5" font-style="italic">e</text>
<text transform="translate(88.9,617.9) rotate(-90)" class="sf" font-size="22.0">(</text>
<text transform="translate(88.9,610.2) rotate(-90)" class="sf" font-size="27.5">cm</text>
<text transform="translate(78.0,574.5) rotate(-90)" class="sf" font-size="20.0">−3</text>
<text transform="translate(88.9,551.2) rotate(-90)" class="sf" font-size="27.5">)</text>
<text transform="translate(88.9,541.2) rotate(-90)" class="ss" font-size="20.0">,</text>
<text transform="translate(88.9,535.3) rotate(-90)" class="ss" font-size="20.0" font-style="italic">T</text>
<text transform="translate(92.0,524.0) rotate(-90)" class="ss" font-size="14.5" font-style="italic">e</text>
<text transform="translate(88.9,512.8) rotate(-90)" class="ss" font-size="20.0">(K)</text>
<text x="289.3" y="146.4" class="ss" font-size="27.5">M 81</text>
<text x="410.5" y="183.2" class="ss" font-size="27.5" fill="rgb(255,0,0)"><tspan font-style="italic">H</tspan><tspan font-size="19.3" dy="-11" dx="0.3">+</tspan></text>
<text x="446.3" y="255.9" class="ss" font-size="28.6" fill="rgb(0,150,0)"><tspan font-style="italic">O</tspan><tspan font-size="19.3" dy="-11" dx="0.4">7+</tspan></text>
<text x="529.3" y="255.9" class="ss" font-size="28.6" fill="rgb(0,150,0)"><tspan font-style="italic">O</tspan><tspan font-size="19.3" dy="-11" dx="0.4">6+</tspan></text>
<text x="649.3" y="219.8" class="ss" font-size="28.6" fill="rgb(0,150,0)"><tspan font-style="italic">O</tspan><tspan font-size="19.3" dy="-11" dx="0.4">2+</tspan></text>
<text x="613.0" y="346.2" class="ss" font-size="28.6" fill="rgb(0,150,0)"><tspan font-style="italic">O</tspan><tspan font-size="19.3" dy="-11" dx="0.4">4+</tspan></text>
<text x="649.3" y="364.3" class="ss" font-size="28.6" fill="rgb(0,150,0)"><tspan font-style="italic">O</tspan><tspan font-size="19.3" dy="-11" dx="0.4">3+</tspan></text>
<text x="565.3" y="400.5" class="ss" font-size="28.6" fill="rgb(0,150,0)"><tspan font-style="italic">O</tspan><tspan font-size="19.3" dy="-11" dx="0.4">5+</tspan></text>
<text x="289.6" y="605.2" class="ss" font-size="22.4">H<tspan font-style="italic">α</tspan><tspan dx="2.2"> emissivity</tspan></text>
<text x="587.3" y="527.4" class="ss" font-size="23.3" font-style="italic">T<tspan font-size="15.6" dy="4.2">e</tspan></text>
<text x="646.3" y="577.2" class="ss" font-size="23.3" font-style="italic">n<tspan font-size="15.6" dy="4.2">e</tspan></text>
<text x="646.3" y="621.0" class="ss" font-size="23.3" font-style="italic">n<tspan font-size="15.6" dy="4.2">p</tspan></text>
<text x="617.0" y="797.4" class="ss" font-size="23.7" font-style="italic">ξ</text>
</svg>
</body></html>
